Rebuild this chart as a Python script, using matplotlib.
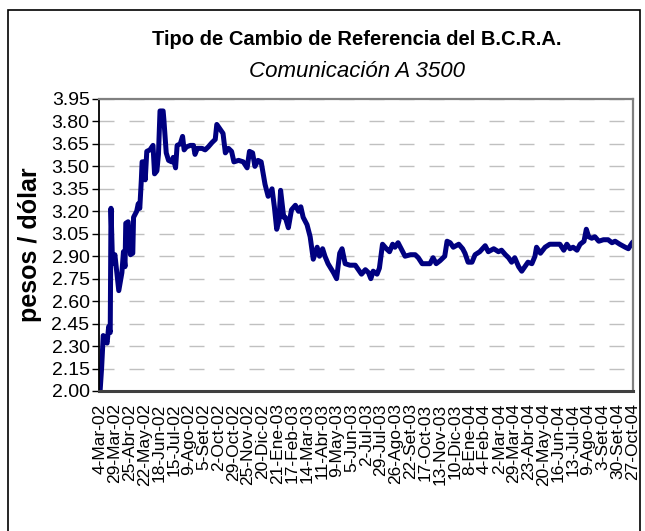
import numpy as np
import matplotlib
matplotlib.use("Agg")
import matplotlib.pyplot as plt
from matplotlib.patches import Rectangle


## datos (dia habil desde 4-Mar-02, tipo de cambio)
dia = [0, 2, 4, 9, 11, 13, 14, 16, 19, 24, 28, 30, 32, 33, 36, 39, 42, 43, 47, 49,
       51, 53, 54, 57, 58, 60, 64, 68, 70, 73, 75, 77, 81, 82, 85, 88, 92, 94, 97, 99,
       103, 106, 108, 111, 116, 120, 122, 125, 131, 135, 139, 144, 148, 150, 154, 158,
       161, 165, 169, 172, 178, 184, 189, 192, 196, 199, 203, 207, 210, 212, 216, 221,
       224, 227, 230, 232, 236, 238, 242, 246, 251, 255, 258, 261, 266, 270, 274, 279,
       282, 286, 289, 293, 300, 304, 308, 311, 315, 321, 328, 332, 336, 341, 345, 348,
       351, 356, 359, 363, 368, 372, 376, 379, 383, 388, 392, 399, 405, 409, 414, 420,
       424, 428, 432, 437, 443, 446, 450, 454, 461, 466, 469, 473, 478, 482, 488, 495,
       499, 506, 512, 516, 521, 525, 529, 533, 538, 542, 546, 550, 555, 559, 561, 566,
       572, 578, 585, 591, 596, 600, 604, 608, 613, 617, 622, 625, 628, 632, 636, 641,
       647, 653, 658, 662, 668, 675, 679, 684, 686]
tc = [2.00, 2.16, 2.37, 2.32, 2.43, 2.39, 3.22, 2.85, 2.91, 2.67, 2.79, 2.93, 2.83, 3.12,
      3.13, 2.91, 2.92, 3.16, 3.20, 3.25, 3.22, 3.41, 3.53, 3.53, 3.41, 3.60, 3.61, 3.64,
      3.45, 3.47, 3.58, 3.87, 3.87, 3.81, 3.59, 3.54, 3.53, 3.56, 3.49, 3.64, 3.65, 3.70,
      3.61, 3.63, 3.64, 3.64, 3.58, 3.62, 3.62, 3.61, 3.63, 3.66, 3.68, 3.78, 3.75, 3.72,
      3.59, 3.62, 3.60, 3.53, 3.54, 3.53, 3.49, 3.60, 3.59, 3.50, 3.54, 3.53, 3.44, 3.38,
      3.30, 3.35, 3.23, 3.08, 3.14, 3.34, 3.16, 3.16, 3.09, 3.21, 3.24, 3.20, 3.23, 3.16,
      3.11, 3.03, 2.88, 2.96, 2.90, 2.95, 2.90, 2.85, 2.79, 2.75, 2.92, 2.95, 2.85, 2.84,
      2.84, 2.81, 2.78, 2.81, 2.79, 2.75, 2.80, 2.78, 2.82, 2.98, 2.95, 2.93, 2.98, 2.96,
      2.99, 2.94, 2.90, 2.91, 2.91, 2.89, 2.85, 2.85, 2.85, 2.89, 2.85, 2.87, 2.90, 3.00,
      2.99, 2.96, 2.98, 2.95, 2.92, 2.86, 2.86, 2.91, 2.93, 2.97, 2.93, 2.95, 2.93, 2.94,
      2.91, 2.89, 2.86, 2.89, 2.83, 2.80, 2.83, 2.86, 2.85, 2.90, 2.96, 2.92, 2.96, 2.98,
      2.98, 2.98, 2.94, 2.98, 2.95, 2.96, 2.94, 2.98, 3.00, 3.08, 3.03, 3.02, 3.03, 3.00,
      3.01, 3.01, 2.99, 3.00, 2.98, 2.96, 2.95, 2.99, 3.00]

## etiquetas del eje x (cada 19 dias habiles)
fechas = ["4-Mar-02", "29-Mar-02", "25-Abr-02", "22-May-02", "18-Jun-02", "15-Jul-02",
          "9-Ago-02", "5-Set-02", "2-Oct-02", "29-Oct-02", "25-Nov-02", "20-Dic-02",
          "21-Ene-03", "17-Feb-03", "14-Mar-03", "11-Abr-03", "9-May-03", "5-Jun-03",
          "2-Jul-03", "29-Jul-03", "26-Ago-03", "22-Set-03", "17-Oct-03", "13-Nov-03",
          "10-Dic-03", "8-Ene-04", "4-Feb-04", "2-Mar-04", "29-Mar-04", "23-Abr-04",
          "20-May-04", "16-Jun-04", "13-Jul-04", "9-Ago-04", "3-Set-04", "30-Set-04",
          "27-Oct-04"]
paso = 19


def main():
    plt.rcParams['font.family'] = ['Liberation Sans', 'DejaVu Sans']

    fig = plt.figure(figsize=(6.45, 5.31), dpi=100, facecolor='w')
    ax = fig.add_axes([0.154, 0.2637, 0.828, 0.5499])

    # marco del grafico
    fig.patches.append(Rectangle((0.0124, -0.05), 0.98, 1.031, transform=fig.transFigure,
                                 fill=False, edgecolor='black', linewidth=1.2))

    ax.plot(dia, tc, color='#000080', linewidth=3.6, solid_joinstyle='round')

    ax.set_xlim(-1, 685.5)
    ax.set_ylim(2.00, 3.95)
    yt = np.round(np.arange(2.00, 3.951, 0.15), 2)
    ax.set_yticks(yt)
    ax.set_yticklabels([f"{v:.2f}" for v in yt], fontsize=14)
    ax.set_xticks([i * paso for i in range(len(fechas))])
    ax.set_xticklabels(fechas, rotation=90, fontsize=12.5)

    ax.tick_params(axis='y', direction='out', length=5, width=1, pad=2)
    ax.tick_params(axis='x', length=0, pad=9)

    # grilla
    ax.grid(axis='y', color='#c0c0c0', linewidth=1.0, dashes=(10.8, 10.8))
    ax.set_axisbelow(True)

    ax.spines['left'].set_color('black')
    ax.spines['left'].set_linewidth(1.3)
    ax.spines['bottom'].set_color('#404040')
    ax.spines['bottom'].set_linewidth(2.2)
    ax.spines['top'].set_color('#808080')
    ax.spines['top'].set_linewidth(1.6)
    ax.spines['right'].set_color('#808080')
    ax.spines['right'].set_linewidth(1.6)

    ax.set_ylabel("pesos / dólar", fontsize=18, fontweight='bold')
    ax.yaxis.set_label_coords(-0.108, 0.5)

    fig.text(0.553, 0.925, "Tipo de Cambio de Referencia del B.C.R.A.", ha='center', va='center',
             fontsize=14.5, fontweight='bold')
    fig.text(0.553, 0.865, "Comunicación A 3500", ha='center', va='center',
             fontsize=16, style='italic')

    fig.savefig("out.png", dpi=100)


if __name__ == "__main__":
    main()
